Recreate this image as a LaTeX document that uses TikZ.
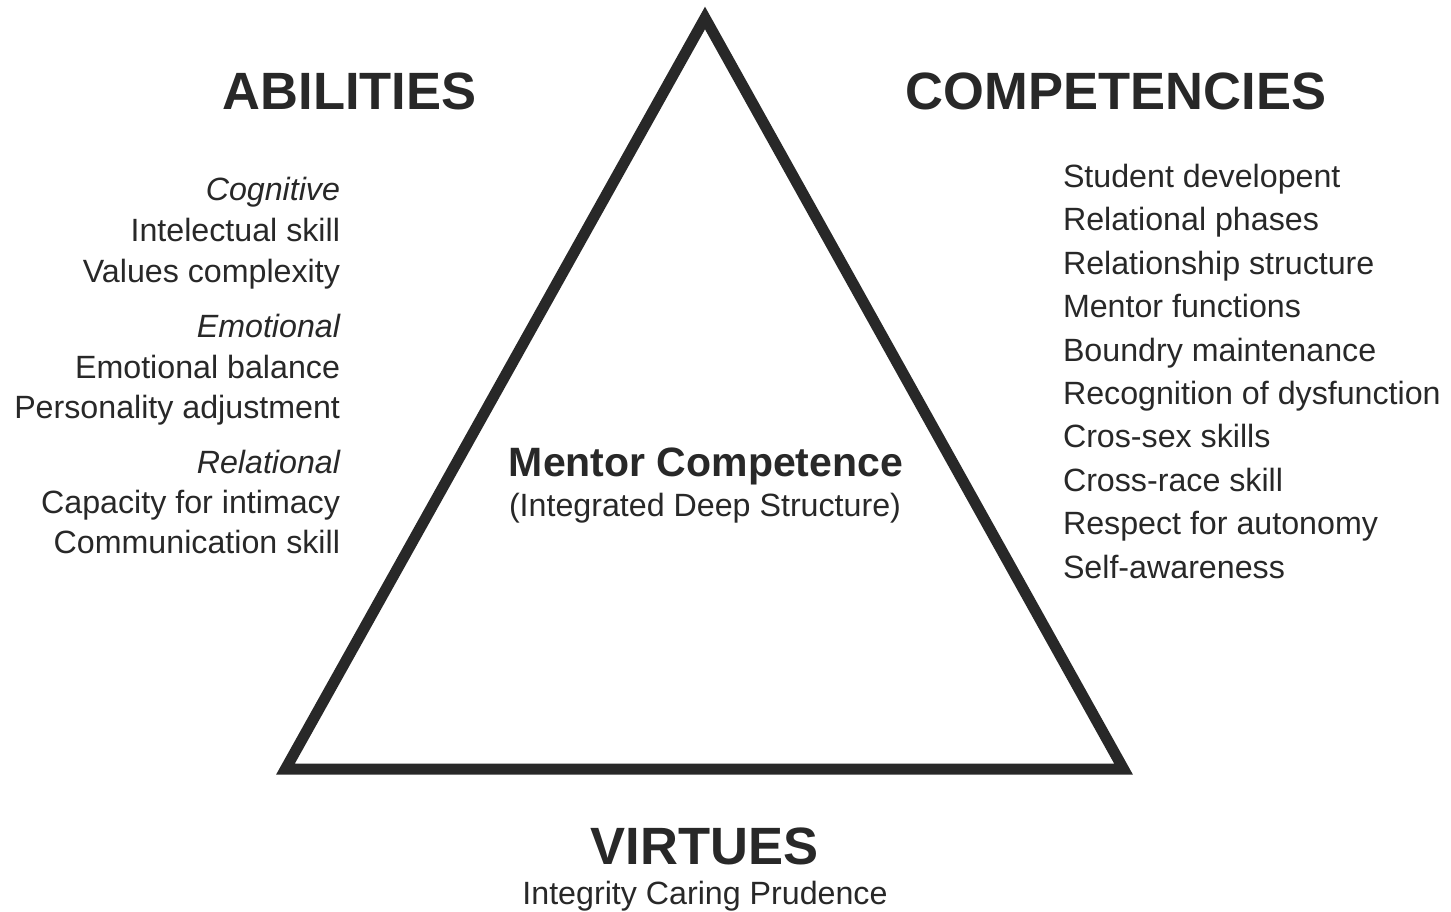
\documentclass[tikz,border=0pt]{standalone}
\usepackage{fontspec}
\setmainfont{Liberation Sans}
\definecolor{ink}{RGB}{40,40,40}
\begin{document}
\begin{tikzpicture}[x=1pt,y=-1pt,
  every node/.style={inner sep=0pt, outer sep=0pt, text=ink},
  heading/.style={font=\fontsize{52.5}{60}\selectfont\bfseries, anchor=base},
  core/.style={font=\fontsize{41}{48}\selectfont\bfseries, anchor=base},
  item/.style={font=\fontsize{32.2}{38}\selectfont},
  group/.style={font=\fontsize{32.2}{38}\selectfont\itshape},
  ]
\useasboundingbox[fill=white] (0,0) rectangle (1451,911);

% the triangle
\coordinate (apex) at (705,18);
\coordinate (left) at (285.5,769);
\coordinate (right) at (1123.5,769);
\draw[ink, line width=11pt, line join=miter] (apex) -- (left) -- (right) -- cycle;

% headings
\node[heading] (abilities) at (349.5,109) {ABILITIES};
\node[heading] (competencies) at (1116,109) {COMPETENCIES};
\node[heading] (virtues) at (704.5,864) {VIRTUES};
\node[item, anchor=base] (virtuelist) at (705,904) {Integrity Caring Prudence};

% centre
\node[core] (mentor) at (706,476) {Mentor Competence};
\node[item, anchor=base] (mentorsub) at (705,516) {(Integrated Deep Structure)};

% abilities list
\foreach \i/\y/\s/\t in {
  1/200/group/Cognitive,
  2/241/item/Intelectual skill,
  3/282/item/Values complexity,
  4/337/group/Emotional,
  5/378/item/Emotional balance,
  6/418/item/Personality adjustment,
  7/473/group/Relational,
  8/513/item/Capacity for intimacy,
  9/553/item/Communication skill}
  \node[\s, anchor=base east] (ab\i) at (340,\y) {\t};

% competencies list
\foreach \i/\t in {
  0/Student developent,
  1/Relational phases,
  2/Relationship structure,
  3/Mentor functions,
  4/Boundry maintenance,
  5/Recognition of dysfunction,
  6/Cros-sex skills,
  7/Cross-race skill,
  8/Respect for autonomy,
  9/Self-awareness}
  \node[item, anchor=base west] (co\i) at (1063,{187.5+43.4*\i}) {\t};
\end{tikzpicture}
\end{document}
